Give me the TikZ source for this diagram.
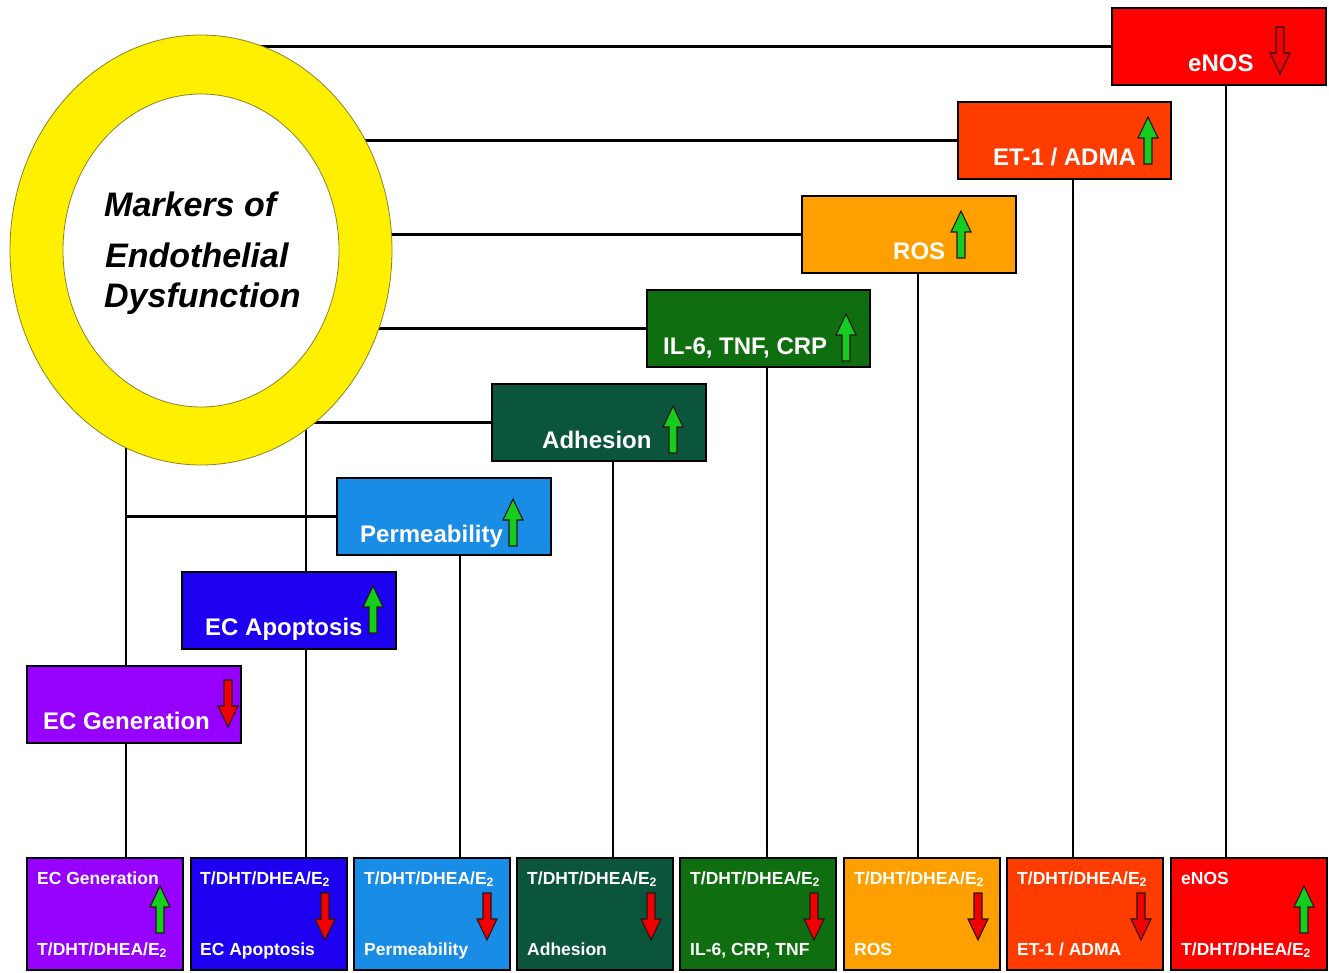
\documentclass[tikz,border=0pt]{standalone}
\usepackage{fontspec}
\setmainfont{Liberation Sans}
\usetikzlibrary{shapes.geometric}
\pgfdeclarelayer{background}
\pgfsetlayers{background,main}
\definecolor{cENOS}{RGB}{255,0,0}
\definecolor{cET}{RGB}{255,60,0}
\definecolor{cROS}{RGB}{255,160,0}
\definecolor{cIL}{RGB}{15,110,15}
\definecolor{cADH}{RGB}{10,85,60}
\definecolor{cPERM}{RGB}{25,140,230}
\definecolor{cAPOP}{RGB}{30,0,240}
\definecolor{cGEN}{RGB}{150,0,255}
\definecolor{ringyellow}{RGB}{255,240,0}
\definecolor{ringedge}{RGB}{140,130,40}
\definecolor{agreen}{RGB}{20,205,30}
\definecolor{ared}{RGB}{240,0,0}
\definecolor{aedge}{RGB}{40,20,20}
\tikzset{
  lnk/.style={line width=2.5pt, draw=black},
  tbox/.style={draw=black, line width=2pt, anchor=north west, inner sep=0, minimum height=77},
  bbox/.style={draw=black, line width=2pt, anchor=north west, inner sep=0, minimum width=156, minimum height=112},
  ttext/.style={anchor=base west, inner sep=0, text=white, font=\fontsize{24}{28}\selectfont\bfseries},
  btext/.style={anchor=base west, inner sep=0, text=white, font=\fontsize{17.5}{21}\selectfont\bfseries},
  ttl/.style={anchor=base west, inner sep=0, text=black, font=\fontsize{34}{40}\selectfont\bfseries\itshape},
  uparr/.pic={\filldraw[fill=agreen, draw=aedge, line width=1.1pt, line join=miter]
     (-4,0) -- (-4,-26) -- (-10,-26) -- (0,-47) -- (10,-26) -- (4,-26) -- (4,0) -- cycle;},
  downarr/.pic={\filldraw[fill=ared, draw=aedge, line width=1.1pt, line join=miter]
     (-4,0) -- (-4,26) -- (-10,26) -- (0,47) -- (10,26) -- (4,26) -- (4,0) -- cycle;}
}
\newcommand{\Tdht}{T/DHT/DHEA/E\textsubscript{2}}
\begin{document}
\begin{tikzpicture}[x=1pt,y=-1pt]
\useasboundingbox (0,0) rectangle (1329,973);
% ring
\node[ellipse, fill=ringyellow, draw=ringedge, line width=0.8pt, minimum width=382, minimum height=430, inner sep=0] (ring) at (201,250) {};
\node[ellipse, fill=white, draw=ringedge, line width=0.8pt, minimum width=276, minimum height=313, inner sep=0] (inner) at (201,250.5) {};
\node[ttl] (t1) at (104,217) {Markers of};
\node[ttl] (t2) at (105,268) {Endothelial};
\node[ttl] (t3) at (104,307) {Dysfunction};
% top staircase boxes
\node[tbox, fill=cENOS, minimum width=214] (enos) at (1111,7) {};
\node[tbox, fill=cET, minimum width=213] (et) at (957,101) {};
\node[tbox, fill=cROS, minimum width=214] (ros) at (801,195) {};
\node[tbox, fill=cIL, minimum width=223] (il) at (646,289) {};
\node[tbox, fill=cADH, minimum width=214] (adh) at (491,383) {};
\node[tbox, fill=cPERM, minimum width=214] (perm) at (336,477) {};
\node[tbox, fill=cAPOP, minimum width=214] (apop) at (181,571) {};
\node[tbox, fill=cGEN, minimum width=214] (gen) at (26,665) {};
\node[ttext] (tenos) at (1188,72) {eNOS};
\node[ttext] (tet) at (993,166) {ET-1 / ADMA};
\node[ttext] (tros) at (893,260) {ROS};
\node[ttext] (til) at (663,354) {IL-6, TNF, CRP};
\node[ttext] (tadh) at (542,448) {Adhesion};
\node[ttext] (tperm) at (360,542) {Permeability};
\node[ttext] (tapop) at (205,635) {EC Apoptosis};
\node[ttext] (tgen) at (43,729) {EC Generation};
\pic at (1280,27) {downarr};
\pic at (1148,164) {uparr};
\pic at (961,258) {uparr};
\pic at (846,361) {uparr};
\pic at (673,453) {uparr};
\pic at (513,546) {uparr};
\pic at (373,633) {uparr};
\pic at (228,680) {downarr};
% bottom boxes
\node[bbox, fill=cGEN] (b1) at (26,857) {};
\node[bbox, fill=cAPOP] (b2) at (189.5,857) {};
\node[bbox, fill=cPERM] (b3) at (353,857) {};
\node[bbox, fill=cADH] (b4) at (516,857) {};
\node[bbox, fill=cIL] (b5) at (679,857) {};
\node[bbox, fill=cROS] (b6) at (843,857) {};
\node[bbox, fill=cET] (b7) at (1006,857) {};
\node[bbox, fill=cENOS] (b8) at (1170,857) {};
\node[btext] (b1t) at (37,884) {EC Generation};
\node[btext] (b1b) at (37,955) {\Tdht};
\node[btext] (b2t) at (200,884) {\Tdht};
\node[btext] (b2b) at (200,955) {EC Apoptosis};
\node[btext] (b3t) at (364,884) {\Tdht};
\node[btext] (b3b) at (364,955) {Permeability};
\node[btext] (b4t) at (527,884) {\Tdht};
\node[btext] (b4b) at (527,955) {Adhesion};
\node[btext] (b5t) at (690,884) {\Tdht};
\node[btext] (b5b) at (690,955) {IL-6, CRP, TNF};
\node[btext] (b6t) at (854,884) {\Tdht};
\node[btext] (b6b) at (854,955) {ROS};
\node[btext] (b7t) at (1017,884) {\Tdht};
\node[btext] (b7b) at (1017,955) {ET-1 / ADMA};
\node[btext] (b8t) at (1181,884) {eNOS};
\node[btext] (b8b) at (1181,955) {\Tdht};
\pic at (160,933) {uparr};
\pic at (325,893) {downarr};
\pic at (487,893) {downarr};
\pic at (651,893) {downarr};
\pic at (814,893) {downarr};
\pic at (978,893) {downarr};
\pic at (1141,893) {downarr};
\pic at (1304,933) {uparr};
% column coordinates
\coordinate (x1) at (126,0);
\coordinate (x2) at (306,0);
\coordinate (x3) at (460,0);
\coordinate (x4) at (613,0);
\coordinate (x5) at (767,0);
\coordinate (x6) at (918,0);
\coordinate (x7) at (1073,0);
\coordinate (x8) at (1226,0);
\begin{pgfonlayer}{background}
\draw[lnk] (ring.center |- enos.west) -- (enos.west);
\draw[lnk] (ring.center |- et.west) -- (et.west);
\draw[lnk] (ring.center |- ros.west) -- (ros.west);
\draw[lnk] (ring.center |- il.west) -- (il.west);
\draw[lnk] (ring.center |- adh.west) -- (adh.west);
\draw[lnk] (adh.west -| x2) -- (b2.north -| x2);
\draw[lnk] (ring.center -| x1) -- (b1.north -| x1);
\draw[lnk] (perm.west -| x1) -- (perm.west);
\draw[lnk] (perm.south -| x3) -- (b3.north -| x3);
\draw[lnk] (adh.south -| x4) -- (b4.north -| x4);
\draw[lnk] (il.south -| x5) -- (b5.north -| x5);
\draw[lnk] (ros.south -| x6) -- (b6.north -| x6);
\draw[lnk] (et.south -| x7) -- (b7.north -| x7);
\draw[lnk] (enos.south -| x8) -- (b8.north -| x8);
\end{pgfonlayer}
\end{tikzpicture}
\end{document}
